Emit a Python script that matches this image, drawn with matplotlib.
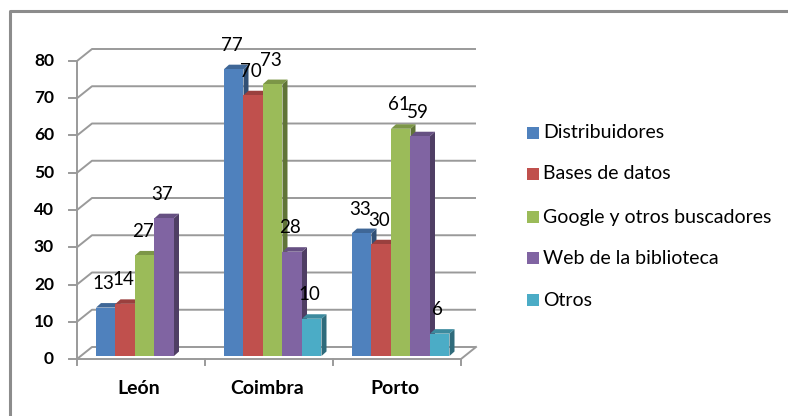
import matplotlib
matplotlib.use('Agg')
import matplotlib.pyplot as plt
from matplotlib.patches import Polygon, Rectangle
from matplotlib.lines import Line2D

# ---------------- data ----------------
categories = ['León', 'Coimbra', 'Porto']
series_names = ['Distribuidores', 'Bases de datos', 'Google y otros buscadores',
                'Web de la biblioteca', 'Otros']
distribuidores = [13, 77, 33]
bases_de_datos = [14, 70, 30]
google_buscadores = [27, 73, 61]
web_biblioteca = [37, 28, 59]
otros = [None, 10, 6]
y_ticks = [0, 10, 20, 30, 40, 50, 60, 70, 80]
colors = ['#4F81BD', '#C0504D', '#9BBB59', '#8064A2', '#4BACC6']

series_values = [distribuidores, bases_de_datos, google_buscadores, web_biblioteca, otros]

FONT = 'Lato'
W, H = 788, 416
fig = plt.figure(figsize=(W / 100, H / 100), dpi=100)
ax = fig.add_axes([0, 0, 1, 1])
ax.set_axis_off()

# scale of the front plane (pixel layout)
x0_px, cat_px, y0_px, ypp = 77, 128.0, 359, 3.725
ax.set_xlim(-x0_px / cat_px, (W - x0_px) / cat_px)
ax.set_ylim(-(H - y0_px) / ypp, y0_px / ypp)


def dxu(px):
    return px / cat_px


def dyu(px):
    return px / ypp


ncat = len(categories)
ymax = y_ticks[-1]
DX, DY = dxu(15), dyu(12)          # wall depth
grid_c = '#9a9a9a'
lw = 1.4

# back wall + left wall gridlines
for v in y_ticks:
    ax.plot([0, DX, ncat + DX], [v, v + DY, v + DY], color=grid_c, lw=lw, zorder=1,
            solid_capstyle='butt')
# front vertical axis and ticks
ax.plot([0, 0], [0, ymax], color=grid_c, lw=lw, zorder=1)
for v in y_ticks:
    ax.plot([-dxu(8), 0], [v, v], color=grid_c, lw=lw, zorder=1)
    ax.text(-dxu(23), v, str(v), ha='right', va='center', fontsize=12.5,
            fontweight='bold', family=FONT, color='#000000')
# floor
ax.plot([0, ncat, ncat + DX], [0, 0, DY], color=grid_c, lw=lw, zorder=1)
for i in range(ncat + 1):
    ax.plot([i, i], [0, -dyu(6)], color=grid_c, lw=lw, zorder=1)
for i, c in enumerate(categories):
    ax.text(i + 0.5 - dxu(2), -dyu(29), c, ha='center', va='center', fontsize=14,
            fontweight='bold', family=FONT, color='#000000')

# bars
nser = len(series_values)
f = 0.25
w = dxu(19.5)
gap = (1 - nser * w) / 2
bdx, bdy = dxu(5), dyu(4.5)


def shade(col, k):
    r, g, b = matplotlib.colors.to_rgb(col)
    return (r * k, g * k, b * k)


z = 5
for i in range(ncat):
    for j, vals in enumerate(series_values):
        v = vals[i]
        if v is None:
            continue
        col = colors[j]
        left = i + gap + j * w + f * DX
        base = f * DY
        top = base + v
        side = Polygon([(left + w, base), (left + w + bdx, base + bdy),
                        (left + w + bdx, top + bdy), (left + w, top)],
                       closed=True, fc=shade(col, 0.62), ec='none', zorder=z)
        topf = Polygon([(left, top), (left + w, top), (left + w + bdx, top + bdy),
                        (left + bdx, top + bdy)],
                       closed=True, fc=shade(col, 0.8), ec='none', zorder=z)
        front = Polygon([(left, base), (left + w, base), (left + w, top), (left, top)],
                        closed=True, fc=col, ec='none', zorder=z + 0.5)
        ax.add_patch(side)
        ax.add_patch(topf)
        ax.add_patch(front)
        z += 1
        ax.text(left + w / 2 - dxu(2), top + dyu(24), str(v), ha='center', va='center',
                fontsize=13.5, family=FONT, color='#000000', zorder=50)

# legend (manual)
leg_y = [133, 174, 217, 258, 300]
for k, name in enumerate(series_names):
    yc = H - leg_y[k]
    fig.add_artist(Rectangle(((527) / W, (yc - 6) / H), 12 / W, 12 / H,
                             transform=fig.transFigure, fc=colors[k], ec='none'))
    fig.text(543 / W, yc / H, name, ha='left', va='center', fontsize=14,
             family=FONT, color='#000000')

# chart border (top & left visible)
fig.add_artist(Line2D([9.5 / W, 9.5 / W, 1.0], [0, (H - 11) / H, (H - 11) / H],
                      transform=fig.transFigure, color='#8c8c8c', lw=2.2))

fig.savefig('out.png', dpi=100)
